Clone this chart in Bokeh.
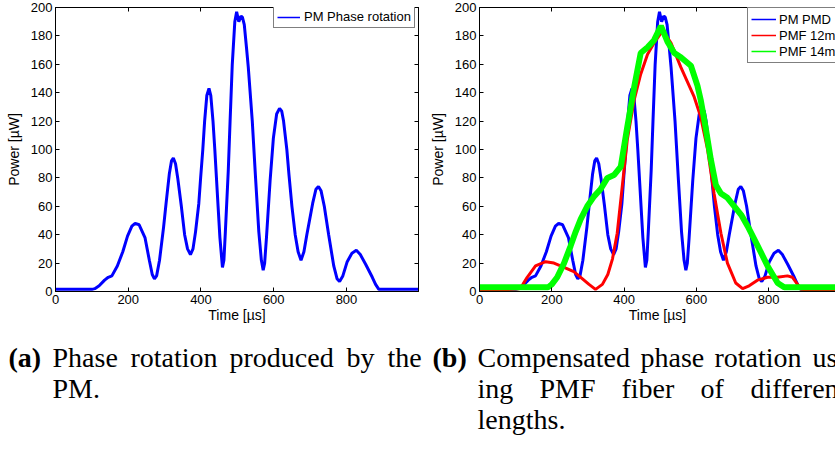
from bokeh.plotting import figure
from bokeh.models import FixedTicker, LinearAxis, Legend, LegendItem
from bokeh.layouts import column, row
from bokeh.embed import file_html
from bokeh.resources import INLINE
from bokeh.core.properties import value

# ---------------- data ----------------
pm_t = [0, 20, 40, 60, 80, 100, 108, 120, 135, 145, 155, 170, 185, 198, 210, 219, 230, 246, 258, 266,
        272, 278, 286, 297, 304, 313, 319, 324, 330, 336, 346, 355, 363, 371, 378, 385, 394, 399, 405,
        410, 416, 422, 427, 433, 438, 447, 452, 459, 463, 467, 475, 480, 486, 493, 498, 504, 510, 514,
        519, 525, 530, 541, 550, 559, 566, 571, 575, 580, 590, 599, 608, 616, 622, 627, 636, 642, 650,
        659, 667, 675, 683, 691, 707, 716, 723, 730, 739, 751, 765, 774, 781, 790, 802, 815, 827, 838,
        853, 871, 880, 889, 894, 920, 950, 1000]
pm_p = [1.5, 1.5, 1.5, 1.5, 1.5, 1.5, 2, 4, 8, 10, 11, 18, 28, 39, 46, 48, 47, 38, 22, 12,
        9, 11, 22, 45, 62, 83, 92, 94, 90, 80, 60, 40, 30, 26, 30, 42, 62, 80, 100,
        120, 138, 143, 138, 120, 100, 60, 38, 17, 22, 42, 85, 120, 160, 190, 197, 190, 194, 193,
        188, 172, 158, 120, 80, 42, 22, 15, 20, 38, 78, 108, 125, 129, 127, 120, 100, 82, 60,
        40, 28, 22, 28, 40, 62, 72, 74, 71, 60, 40, 18, 9, 7, 11, 21, 27, 29, 26,
        19, 10, 5, 1.5, 1.5, 1.5, 1.5, 1.5]

pmf12_t = [0, 60, 110, 120, 132, 155, 183, 206, 234, 261, 280, 303, 321, 340, 355, 368, 381, 395, 409,
           428, 446, 465, 483, 502, 512, 530, 557, 594, 612, 631, 649, 668, 686, 709, 728, 746, 769,
           797, 824, 852, 866, 880, 889, 920, 1000]
pmf12_p = [1, 1, 2, 5, 10, 18, 21, 20, 17, 14, 10, 5, 1.5, 5, 12, 23, 41, 74, 107,
           135, 153, 167, 175, 182, 182, 175, 158, 137, 123, 100, 69, 41, 20, 6, 2, 4, 8,
           10, 10, 11, 10, 5, 1.5, 1, 1]

pmf14_t = [0, 100, 190, 200, 215, 234, 252, 266, 280, 298, 317, 335, 354, 372, 391, 409, 428, 446, 465,
           483, 502, 520, 539, 557, 585, 603, 612, 626, 640, 654, 668, 686, 705, 724, 742, 770, 797,
           825, 843, 900, 1000]
pmf14_p = [3, 3, 3, 5, 10, 20, 32, 42, 51, 60, 67, 72, 80, 82, 88, 116, 144, 168, 172,
           177, 187, 176, 168, 165, 159, 145, 135, 115, 93, 75, 69, 66, 60, 54, 46, 32, 18,
           6, 3, 3, 3]

x_ticks = [0, 200, 400, 600, 800]
y_ticks = [0, 20, 40, 60, 80, 100, 120, 140, 160, 180, 200]

left_labels = ["PM Phase rotation"]
right_labels = ["PM PMD", "PMF 12m", "PMF 14m"]
BLUE, RED, GREEN = "#0000ff", "#ff0000", "#00ff00"

SANS = "Liberation Sans"
SERIF = "Liberation Serif"
NAN = float("nan")


def style_axis(ax, labels=True):
    ax.major_tick_in = 4
    ax.major_tick_out = 0
    ax.minor_tick_line_color = None
    ax.axis_line_color = "black"
    ax.major_tick_line_color = "black"
    ax.major_label_text_font = SANS
    ax.major_label_text_font_size = "13px"
    ax.major_label_text_color = "black"
    ax.major_label_standoff = 3
    ax.axis_label_text_font = SANS
    ax.axis_label_text_font_size = "14px"
    ax.axis_label_text_font_style = "normal"
    ax.axis_label_text_color = "black"
    if not labels:
        ax.major_label_text_font_size = "0px"
        ax.major_label_text_color = None
        ax.major_label_standoff = 0


def make_plot(width, border_left, border_right, x_end, box_right):
    p = figure(width=width, height=325, x_range=(0, x_end), y_range=(0, 200),
               output_backend="svg", toolbar_location=None,
               min_border_left=border_left, min_border_right=border_right,
               min_border_top=7, min_border_bottom=33,
               x_axis_label="Time [µs]", y_axis_label="Power [µW]")
    p.grid.visible = False
    p.background_fill_color = "white"
    p.border_fill_color = "white"
    p.outline_line_color = "black" if box_right else None
    p.xaxis.ticker = FixedTicker(ticks=x_ticks)
    p.yaxis.ticker = FixedTicker(ticks=y_ticks)
    for ax in p.xaxis + p.yaxis:
        style_axis(ax)
    p.xaxis.axis_label_standoff = 0
    p.yaxis.axis_label_standoff = 6
    top = LinearAxis(ticker=FixedTicker(ticks=x_ticks))
    style_axis(top, labels=False)
    p.add_layout(top, "above")
    if box_right:
        right = LinearAxis(ticker=FixedTicker(ticks=y_ticks))
        style_axis(right, labels=False)
        p.add_layout(right, "right")
    return p


def make_legend(items, loc, pad, gw, gh, standoff):
    return Legend(items=items, location=loc, padding=pad, spacing=0, margin=0,
                  label_standoff=standoff, glyph_width=gw, glyph_height=gh, label_height=gh,
                  border_line_color="black", border_line_width=1,
                  background_fill_color="white", background_fill_alpha=1,
                  label_text_font=SANS, label_text_font_size="13px", label_text_color="black")


def key_line(p, color):
    # legend-only line (a single undefined point, nothing drawn in the plot area)
    return p.line(x=[0], y=[NAN], line_color=color, line_width=1.5)


# ---------------- left plot ----------------
p1 = make_plot(420, 55, 2, 998, True)
p1.line(pm_t, pm_p, line_color=BLUE, line_width=3)
k1 = key_line(p1, BLUE)
p1.add_layout(make_legend([LegendItem(label=left_labels[0], renderers=[k1])],
                          (218, 263), 3, 23, 14, 4))

# ---------------- right plot ----------------
p2 = make_plot(415, 59, 0, 985, False)
p2.line(pm_t, pm_p, line_color=BLUE, line_width=3)
p2.line(pmf12_t, pmf12_p, line_color=RED, line_width=3)
p2.line(pmf14_t, pmf14_p, line_color=GREEN, line_width=6)
k_b = key_line(p2, BLUE)
k_r = key_line(p2, RED)
k_g = key_line(p2, GREEN)
p2.add_layout(make_legend([LegendItem(label=right_labels[0], renderers=[k_b]),
                           LegendItem(label=right_labels[1], renderers=[k_r]),
                           LegendItem(label=right_labels[2], renderers=[k_g])],
                          (268, 228), 3, 25, 16, 3))

# ---------------- captions ----------------
p3 = figure(width=835, height=125, x_range=(0, 835), y_range=(125, 0),
            output_backend="svg", toolbar_location=None, min_border=0)
p3.axis.visible = False
p3.grid.visible = False
p3.outline_line_color = None
p3.background_fill_color = "white"
p3.border_fill_color = "white"

L1, L2, L3 = 32, 63, 94
cap_tags = ["(a)", "(b)"]
tag_x = [8, 432]
tag_y = [L1, L1]
cap_words = ["Phase", "rotation", "produced", "by", "the", "PM.",
             "Compensated", "phase", "rotation", "us",
             "ing", "PMF", "fiber", "of", "different", "lengths."]
word_x = [52, 130, 229, 346, 387, 52,
          477, 640, 714, 812,
          477, 539, 621, 700, 750, 477]
word_y = [L1, L1, L1, L1, L1, L2,
          L1, L1, L1, L1,
          L2, L2, L2, L2, L2, L3]
p3.text(x=tag_x, y=tag_y, text=cap_tags, text_font=value(SERIF), text_font_size="28px",
        text_font_style="bold", text_baseline="alphabetic", text_align="left", text_color="black")
p3.text(x=word_x, y=word_y, text=cap_words, text_font=value(SERIF), text_font_size="28px",
        text_baseline="alphabetic", text_align="left", text_color="black")

layout = column(row(p1, p2), p3)
open("out.html", "w").write(file_html(layout, INLINE))
